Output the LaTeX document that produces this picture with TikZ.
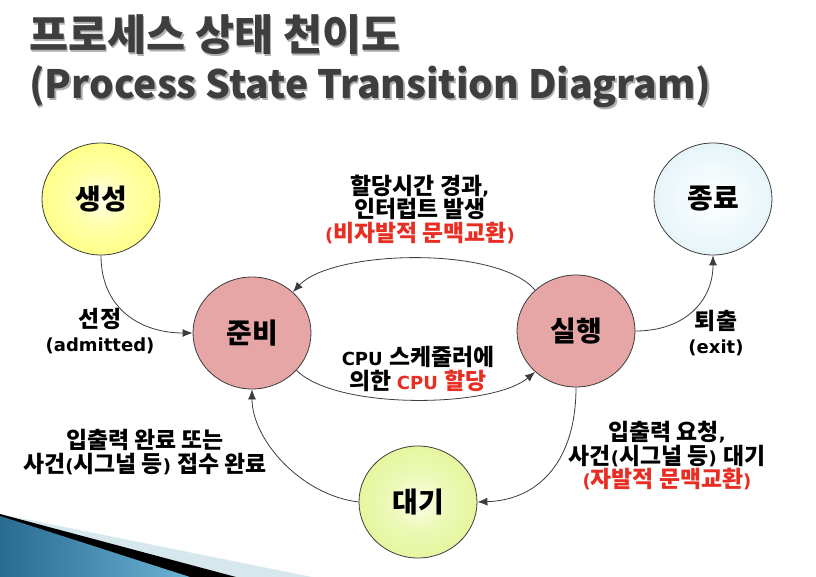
\documentclass[tikz,border=0pt]{standalone}
\usepackage{fontspec}
\usetikzlibrary{shapes.geometric,arrows.meta}
\setmainfont{DejaVu Sans}
\newfontfamily\lafam{DejaVu Sans}
\newfontfamily\krfam{Noto Sans CJK KR}[Scale=1.27]
\newfontfamily\titlefam{Noto Sans CJK KR}

\newXeTeXintercharclass\krclass
\count255="AC00
\loop
  \XeTeXcharclass\count255=\krclass
  \advance\count255 by 1
\ifnum\count255<"D7A4 \repeat
\XeTeXinterchartoks 0 \krclass = {\krfam}
\XeTeXinterchartoks 4095 \krclass = {\krfam}
\XeTeXinterchartoks \krclass 0 = {\lafam}
\XeTeXinterchartoks 4095 0 = {\lafam}
\XeTeXinterchartokenstate=1

\definecolor{linegray}{RGB}{60,60,60}
\definecolor{kred}{RGB}{232,45,35}
\definecolor{pinkfill}{RGB}{230,166,166}
\definecolor{titlegray}{RGB}{62,62,62}
\definecolor{titleshadow}{RGB}{175,175,175}
\definecolor{yC}{RGB}{255,255,238}
\definecolor{yE}{RGB}{255,255,70}
\definecolor{bC}{RGB}{255,255,255}
\definecolor{bE}{RGB}{205,234,244}
\definecolor{gC}{RGB}{252,255,235}
\definecolor{gE}{RGB}{214,240,108}
\definecolor{decoLight}{RGB}{214,232,238}
\definecolor{decoDark}{RGB}{40,108,145}
\definecolor{decoBright}{RGB}{108,178,212}

\pgfdeclareradialshading{shY}{\pgfpoint{0bp}{0bp}}{color(0bp)=(yC); color(12bp)=(yC!60!yE); color(50bp)=(yE)}
\pgfdeclareradialshading{shB}{\pgfpoint{0bp}{0bp}}{color(0bp)=(bC); color(50bp)=(bE)}
\pgfdeclareradialshading{shG}{\pgfpoint{0bp}{0bp}}{color(0bp)=(gC); color(12bp)=(gC!60!gE); color(50bp)=(gE)}

\tikzset{
  stnode/.style={ellipse, draw=linegray, line width=0.8pt, minimum width=118pt,
    minimum height=112pt, inner sep=0pt, font=\fontsize{22}{26}\selectfont\bfseries},
  lbl/.style={align=center, inner sep=0pt, font=\fontsize{18}{23.5}\selectfont\bfseries},
  conn/.style={draw=linegray, line width=0.8pt, -{Latex[length=10pt,width=8pt]}},
  ttlA/.style={anchor=base west, inner sep=0pt, text=titlegray,
    font={\XeTeXinterchartokenstate=0 \titlefam\bfseries\fontsize{42.5}{42.5}\selectfont}},
  ttlB/.style={anchor=base west, inner sep=0pt, text=titlegray,
    font={\XeTeXinterchartokenstate=0 \titlefam\bfseries\fontsize{39}{39}\selectfont}},
  shadowtxt/.style={text=titleshadow}
}

\begin{document}
\begin{tikzpicture}[x=1pt,y=-1pt]
\fill[white] (0,0) rectangle (816,577);
\useasboundingbox (0,0) rectangle (816,577);

% decoration bottom-left
\fill[decoLight] (0,514) -- (312,577) -- (0,577) -- cycle;
\fill[black] (0,514) -- (236,577) -- (0,577) -- cycle;
\shade[left color=decoDark, right color=decoBright] (0,516) -- (190,577) -- (0,577) -- cycle;

% title
\node[ttlA, shadowtxt] (t1s) at (30.5,52.5) {프로세스 상태 천이도};
\node[ttlA] (t1) at (29,51) {프로세스 상태 천이도};
\node[ttlB, shadowtxt] (t2s) at (30.5,100.5) {(Process State Transition Diagram)};
\node[ttlB] (t2) at (29,99) {(Process State Transition Diagram)};

% states
\node[stnode, shading=shY] (sc) at (101,199) {생성};
\node[stnode, fill=pinkfill] (jb) at (252,333) {준비};
\node[stnode, fill=pinkfill] (sx) at (576,331) {실행};
\node[stnode, shading=shB] (zr) at (713,199) {종료};
\node[stnode, shading=shG] (dg) at (418,502) {대기};

% connectors
\draw[conn] (sc.south) .. controls +(0,55) and +(-50,0) .. (jb.west);
\draw[conn] (sx.135) .. controls +(-38,-45) and +(39,-42) .. (jb.45);
\draw[conn] (jb.-40) .. controls +(40,40) and +(-43,36) .. (sx.-135);
\draw[conn] (sx.east) .. controls +(50,0) and +(0,45) .. (zr.south);
\draw[conn] (sx.south) .. controls +(0,73) and +(62,-2) .. (dg.east);
\draw[conn] (dg.west) .. controls +(-58,-7) and +(0,50) .. (jb.south);

% labels
\node[lbl] (l1) at (100,331) {선정\\(admitted)};
\node[lbl] (l2) at (420,209) {할당시간 경과,\\인터럽트 발생\\\textcolor{kred}{(비자발적 문맥교환)}};
\node[lbl] (l3) at (418,369) {CPU 스케줄러에\\의한 \textcolor{kred}{CPU 할당}};
\node[lbl] (l4) at (716,333) {퇴출\\(exit)};
\node[lbl] (l5) at (667,456) {입출력 요청,\\사건(시그널 등) 대기\\\textcolor{kred}{(자발적 문맥교환)}};
\node[lbl] (l6) at (145,452) {입출력 완료 또는\\사건(시그널 등) 접수 완료};
\end{tikzpicture}
\end{document}
